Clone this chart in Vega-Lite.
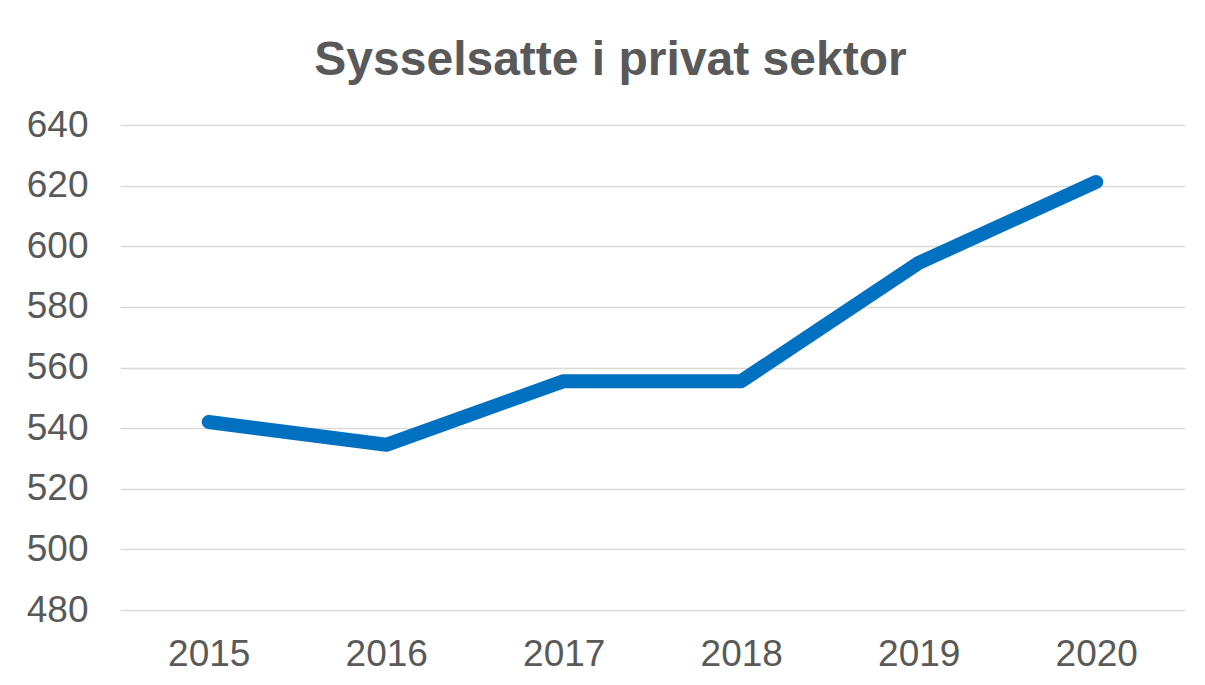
{
  "$schema": "https://vega.github.io/schema/vega-lite/v6.json",
  "width": 1065,
  "height": 485,
  "autosize": {"type": "none"},
  "padding": {"left": 120, "top": 125, "right": 20, "bottom": 75},
  "background": "white",
  "title": {
    "text": "Sysselsatte i privat sektor",
    "font": "Liberation Sans",
    "fontSize": 48,
    "fontWeight": "bold",
    "color": "#595959",
    "anchor": "middle",
    "dx": -42,
    "offset": 21
  },
  "data": {
    "values": [
      {"year": "2015", "value": 542},
      {"year": "2016", "value": 534.5},
      {"year": "2017", "value": 555.5},
      {"year": "2018", "value": 555.5},
      {"year": "2019", "value": 594.5},
      {"year": "2020", "value": 621.2}
    ]
  },
  "mark": {"type": "line", "color": "#0070C0", "strokeWidth": 14, "strokeCap": "round", "strokeJoin": "round"},
  "encoding": {
    "x": {
      "field": "year", "type": "ordinal",
      "scale": {"type": "point", "padding": 0.5},
      "axis": {"title": null, "labelAngle": 0, "domain": false, "ticks": false, "labelPadding": 26, "labelFont": "Liberation Sans", "labelFontSize": 37, "labelColor": "#595959"}
    },
    "y": {
      "field": "value", "type": "quantitative",
      "scale": {"domain": [480, 640], "nice": false, "zero": false},
      "axis": {"title": null, "values": [480, 500, 520, 540, 560, 580, 600, 620, 640], "domain": false, "ticks": false, "labelPadding": 32, "labelFont": "Liberation Sans", "labelFontSize": 37, "labelColor": "#595959", "gridColor": "#D9D9D9", "gridWidth": 1.5}
    }
  },
  "config": {"view": {"stroke": null}}
}
